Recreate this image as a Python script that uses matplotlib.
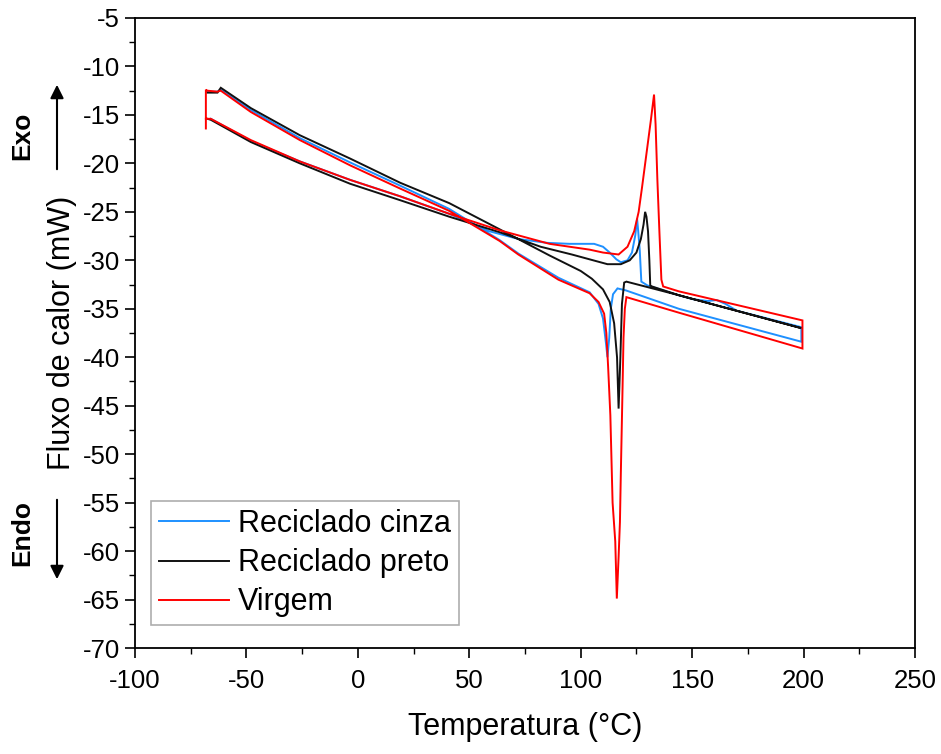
import numpy as np
import matplotlib
matplotlib.use("Agg")
import matplotlib.pyplot as plt
from matplotlib.ticker import MultipleLocator

plt.rcParams['font.family'] = ['Liberation Sans', 'DejaVu Sans']
plt.rcParams['axes.unicode_minus'] = False

# ---------------- data ----------------
labels = ["Reciclado cinza", "Reciclado preto", "Virgem"]
colors = ["#1E90FF", "#111111", "#FF0000"]

# Reciclado cinza (blue)
cinza_heat_T = [-67.5, -63, -61.5, -48, -26, -3.5, 19, 41, 63.5, 72, 90, 104, 108, 110,
                111.3, 112, 112.8, 113.5, 114.5, 116.5, 120.2, 144, 199]
cinza_heat_HF = [-12.6, -12.6, -12.4, -14.5, -17.4, -19.9, -22.3, -24.7, -27.9, -29.3, -31.8,
                 -33.3, -34.5, -36.0, -38.5, -40.0, -38.0, -35.0, -33.5, -32.9, -33.1, -35.0, -38.4]
cinza_cool_T = [199, 170, 165, 161, 157, 150, 144, 130, 127.2, 126.5, 125.8, 125.3, 124.5, 123,
                121, 118, 116, 113, 110, 106, 95, 85, 72, 59, 41, 19, -3.5, -26, -48, -66]
cinza_cool_HF = [-36.9, -35.2, -34.5, -34.1, -34.2, -34.0, -33.6, -32.6, -32.2, -29.0, -27.0,
                 -25.7, -27.4, -29.2, -30.0, -30.2, -29.9, -29.2, -28.6, -28.3, -28.3, -28.2,
                 -27.8, -27.0, -25.2, -23.4, -21.7, -19.8, -17.7, -15.4]

# Reciclado preto (black)
preto_heat_T = [-67.5, -63, -61.5, -48, -26, -3.5, 19, 41, 63.6, 86, 100, 105, 110, 113, 115,
                116.3, 117, 117.8, 118.5, 119.5, 120.5, 144, 199]
preto_heat_HF = [-12.7, -12.7, -12.2, -14.3, -17.1, -19.5, -22.0, -24.1, -26.8, -29.5, -31.1,
                 -31.9, -33.0, -34.3, -36.5, -40.0, -45.3, -40.0, -34.5, -32.3, -32.2, -33.6, -37.0]
preto_cool_T = [199, 144, 132, 131.2, 130.8, 130.2, 129.5, 128.9, 128.2, 127, 125, 122, 118, 112,
                104, 96, 82, 63.6, 41, 19, -3.5, -26, -48, -66, -67.5]
preto_cool_HF = [-37.0, -33.6, -32.7, -32.6, -30.0, -27.0, -25.5, -25.0, -26.3, -27.8, -29.2,
                 -30.0, -30.4, -30.4, -29.9, -29.4, -28.6, -27.1, -25.5, -23.8, -22.1, -20.0,
                 -17.8, -15.5, -15.4]

# Virgem (red)
virgem_heat_T = [-68.2, -68.2, -67.5, -63, -61.5, -48, -26, -3.5, 19, 41, 63.6, 72, 90, 104, 108,
                 110.5, 111.5, 112.3, 113.3, 114.3, 115.5, 116.2, 117, 117.6, 118, 118.7, 119.2,
                 119.8, 120.5, 144, 199.5]
virgem_heat_HF = [-16.4, -12.4, -12.5, -12.6, -12.5, -14.7, -17.6, -20.2, -22.6, -24.9, -28.0,
                  -29.4, -32.0, -33.4, -34.3, -35.5, -37.5, -41.0, -46.0, -55.0, -59.0, -64.9,
                  -60.6, -57.0, -52.0, -44.0, -38.0, -35.0, -33.8, -35.4, -39.1]
virgem_cool_T = [199.5, 144, 137, 136.2, 135.3, 134.4, 133.6, 132.9, 131.5, 129.5, 127.5, 126,
                 124, 121, 117, 110, 104, 86, 63.6, 41, 19, -3.5, -26, -48, -66, -68.2]
virgem_cool_HF = [-36.2, -33.2, -32.7, -32.0, -27.0, -21.7, -16.0, -12.9, -15.5, -19.0, -22.5,
                  -25.0, -27.0, -28.6, -29.4, -29.2, -28.9, -28.3, -26.9, -25.2, -23.4, -21.7,
                  -19.8, -17.6, -15.4, -15.4]

x_ticks = [-100, -50, 0, 50, 100, 150, 200, 250]
y_ticks = list(range(-70, -4, 5))

# ---------------- figure ----------------
fig = plt.figure(figsize=(9.41, 7.54), dpi=100)
W, H = 941, 754
ax = fig.add_axes([135 / W, (H - 648) / H, 780 / W, 630 / H])

series = [
    (cinza_heat_T, cinza_heat_HF, cinza_cool_T, cinza_cool_HF),
    (preto_heat_T, preto_heat_HF, preto_cool_T, preto_cool_HF),
    (virgem_heat_T, virgem_heat_HF, virgem_cool_T, virgem_cool_HF),
]
for (hT, hF, cT, cF), lab, col in zip(series, labels, colors):
    T = np.concatenate([hT, cT])
    F = np.concatenate([hF, cF])
    ax.plot(T, F, color=col, lw=1.4, label=lab, solid_joinstyle='miter')

ax.set_xlim(-100, 250)
ax.set_ylim(-70, -5)
ax.set_xticks(x_ticks)
ax.set_yticks(y_ticks)
ax.xaxis.set_minor_locator(MultipleLocator(25))
ax.yaxis.set_minor_locator(MultipleLocator(2.5))
ax.tick_params(axis='both', which='major', direction='out', length=7, width=1.2,
               labelsize=18.5, top=False, right=False, colors='black')
ax.tick_params(axis='both', which='minor', direction='out', length=4, width=1.0,
               top=False, right=False)
ax.tick_params(axis='x', pad=8)
ax.tick_params(axis='y', pad=4)
for s in ax.spines.values():
    s.set_linewidth(1.3)
    s.set_color('black')

ax.set_xlabel("Temperatura (°C)", fontsize=22, labelpad=14)
ax.set_ylabel("Fluxo de calor (mW)", fontsize=22, labelpad=4)

leg = ax.legend(loc='lower left', bbox_to_anchor=(16 / 780, 23 / 630), borderaxespad=0,
                fontsize=22, handlelength=2.3, handletextpad=0.3, labelspacing=0.3,
                borderpad=0.25, fancybox=False, frameon=True)
leg.get_frame().set_edgecolor('#999999')
leg.get_frame().set_linewidth(1.2)

# Exo / Endo annotations (figure pixel coords)
def fx(px):
    return px / W

def fy(py):
    return (H - py) / H

fig.text(fx(22), fy(136), "Exo", rotation=90, fontsize=19, fontweight='bold',
         ha='center', va='center')
fig.text(fx(22), fy(533), "Endo", rotation=90, fontsize=19, fontweight='bold',
         ha='center', va='center')
arrow_kw = dict(arrowstyle='-|>', color='black', lw=1.5, mutation_scale=20)
fig.add_artist(matplotlib.patches.FancyArrowPatch((fx(57), fy(172)), (fx(57), fy(82)),
                                                  transform=fig.transFigure, **arrow_kw))
fig.add_artist(matplotlib.patches.FancyArrowPatch((fx(57), fy(497)), (fx(57), fy(582)),
                                                  transform=fig.transFigure, **arrow_kw))

fig.savefig("out.png", dpi=100)
